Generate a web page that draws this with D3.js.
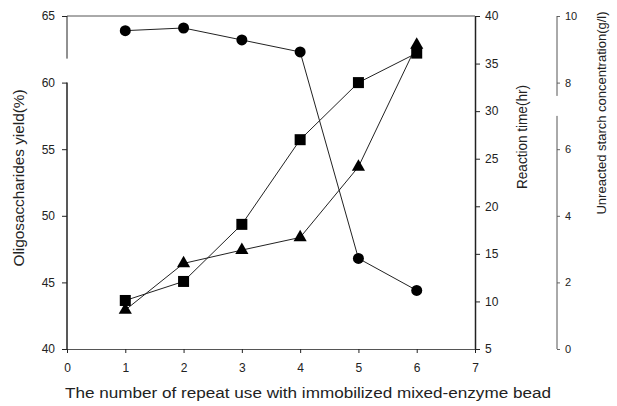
<!DOCTYPE html>
<html>
<head>
<meta charset="utf-8">
<script src="https://cdn.jsdelivr.net/npm/d3@7"></script>
<style>
  html, body { margin: 0; padding: 0; background: #fff; }
  svg { display: block; }
  text { font-family: "Liberation Sans", Arial, sans-serif; fill: #222; }
</style>
</head>
<body>
<svg id="chart" width="617" height="406"></svg>
<script>
// ---- data ----
const repeatUse = [1, 2, 3, 4, 5, 6];
const oligoYield = [63.9, 64.1, 63.2, 62.3, 46.8, 44.4];      // left axis (%)
const reactionTime = [10.1, 12.1, 18.1, 27.0, 33.0, 36.1];     // right axis (hr)
const starchConc = [1.17, 2.57, 2.97, 3.35, 5.47, 9.13];       // far right axis (g/l)
const xTicks = [0, 1, 2, 3, 4, 5, 6, 7];
const yieldTicks = [40, 45, 50, 55, 60, 65];
const timeTicks = [5, 10, 15, 20, 25, 30, 35, 40];
const starchTicks = [0, 2, 4, 6, 8, 10];

const svg = d3.select("#chart");
const col = "#222";

const x = d3.scaleLinear().domain([0, 7]).range([67, 475]);
const yL = d3.scaleLinear().domain([40, 65]).range([349, 16]);
const yR = d3.scaleLinear().domain([5, 40]).range([349, 16]);
const yS = d3.scaleLinear().domain([0, 10]).range([349, 16]);

function styleAxis(g, fs) {
  g.selectAll("line").attr("stroke", col);
  g.selectAll("path").attr("stroke", col);
  g.selectAll("text").attr("fill", col).style("font-size", fs || "12px")
    .style("font-family", '"Liberation Sans", Arial, sans-serif');
}

// top frame line
svg.append("line").attr("x1", x(0)).attr("x2", x(7)).attr("y1", yL(65)).attr("y2", yL(65))
  .attr("stroke", "#555").attr("stroke-width", 1);

// x axis
const gx = svg.append("g").attr("transform", `translate(0,${yL(40)})`)
  .call(d3.axisBottom(x).tickValues(xTicks).tickFormat(d3.format("d")).tickSizeOuter(0).tickSize(4).tickPadding(10));
styleAxis(gx);
gx.select(".domain").attr("stroke", "#555");

// left axis (with broken line as in reference)
const gl = svg.append("g").attr("transform", `translate(${x(0)},0)`)
  .call(d3.axisLeft(yL).tickValues(yieldTicks).tickFormat(d3.format("d")).tickSize(5).tickPadding(7));
gl.select(".domain").remove();
styleAxis(gl);
gl.append("line").attr("x1", 0).attr("x2", 0).attr("y1", yL(65)).attr("y2", yL(61.8)).attr("stroke", col);
gl.append("line").attr("x1", 0).attr("x2", 0).attr("y1", yL(60)).attr("y2", yL(40)).attr("stroke", col).attr("stroke-width", 1.5);

// right axis (reaction time)
const gr = svg.append("g").attr("transform", `translate(${x(7)},0)`)
  .call(d3.axisRight(yR).tickValues(timeTicks).tickFormat(d3.format("d")).tickSize(5).tickPadding(5).tickSizeOuter(0));
styleAxis(gr);
gr.select(".domain").attr("stroke-width", 1.5);

// far right axis (starch)
const sx = 557;
const gs = svg.append("g").attr("transform", `translate(${sx},0)`)
  .call(d3.axisRight(yS).tickValues(starchTicks).tickFormat(d3.format("d")).tickSize(3).tickPadding(5));
gs.select(".domain").remove();
styleAxis(gs, "11px");
gs.selectAll(".tick line").attr("stroke", "#666");
gs.append("line").attr("x1", 0).attr("x2", 0).attr("y1", yS(10)).attr("y2", yS(7.6)).attr("stroke", "#555");
gs.append("line").attr("x1", 0).attr("x2", 0).attr("y1", yS(7.0)).attr("y2", yS(0)).attr("stroke", "#555");

// series lines
function drawLine(vals, ys) {
  const line = d3.line().x((d, i) => x(repeatUse[i])).y(d => ys(d));
  svg.append("path").datum(vals).attr("d", line)
    .attr("fill", "none").attr("stroke", col).attr("stroke-width", 1);
}
drawLine(oligoYield, yL);
drawLine(reactionTime, yR);
drawLine(starchConc, yS);

// markers
svg.append("g").selectAll("circle").data(oligoYield).join("circle")
  .attr("cx", (d, i) => x(repeatUse[i])).attr("cy", d => yL(d)).attr("r", 5.5).attr("fill", "#000");

svg.append("g").selectAll("rect").data(reactionTime).join("rect")
  .attr("x", (d, i) => x(repeatUse[i]) - 5.5).attr("y", d => yR(d) - 5.5)
  .attr("width", 11).attr("height", 11).attr("fill", "#000");

const tri = d3.symbol().type(d3.symbolTriangle).size(75);
svg.append("g").selectAll("path").data(starchConc).join("path")
  .attr("d", tri)
  .attr("transform", (d, i) => `translate(${x(repeatUse[i])},${yS(d)})`)
  .attr("fill", "#000");

// axis titles
svg.append("text").attr("x", 308).attr("y", 398).attr("text-anchor", "middle")
  .attr("textLength", 486).attr("lengthAdjust", "spacingAndGlyphs")
  .style("font-size", "14px").text("The number of repeat use with immobilized mixed-enzyme bead");

svg.append("text").attr("transform", "translate(24,178) rotate(-90)").attr("text-anchor", "middle")
  .attr("textLength", 177).attr("lengthAdjust", "spacingAndGlyphs")
  .style("font-size", "14px").text("Oligosaccharides yield(%)");

svg.append("text").attr("transform", "translate(527,137) rotate(-90)").attr("text-anchor", "middle")
  .attr("textLength", 104).attr("lengthAdjust", "spacingAndGlyphs")
  .style("font-size", "14px").text("Reaction time(hr)");

svg.append("text").attr("transform", "translate(606,113) rotate(-90)").attr("text-anchor", "middle")
  .style("font-size", "13px").text("Unreacted starch concentration(g/l)");
</script>
</body>
</html>
